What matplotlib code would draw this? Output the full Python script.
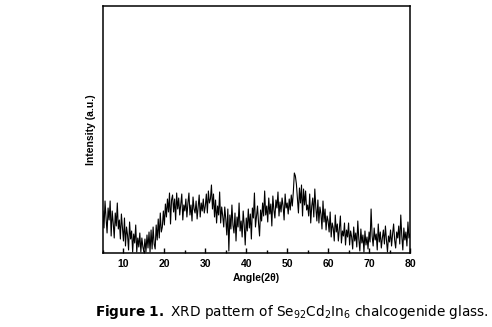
import numpy as np
import matplotlib
matplotlib.use("Agg")
import matplotlib.pyplot as plt
from matplotlib.ticker import MultipleLocator

# XRD pattern, 2theta 5..80 in 0.25 deg steps, intensity in arbitrary units
two_theta_start, two_theta_step = 5.0, 0.25
intensity = [
    42, 25, 52, 35, 20, 45, 33, 52, 17, 42, 30, 15, 40, 27, 50, 24, 33, 14, 39, 26,
    12, 35, 7, 26, 18, 3, 31, 14, 22, 1, 19, 10, 28, 1, 15, 6, 20, 1, 15, 6,
    1, 14, 1, 18, 5, 21, 1, 23, 4, 26, 9, 4, 28, 13, 34, 15, 40, 21, 26, 42,
    28, 49, 36, 54, 41, 60, 29, 53, 58, 41, 54, 33, 60, 44, 55, 38, 48, 59, 33, 48,
    42, 54, 36, 50, 60, 38, 48, 32, 56, 44, 40, 52, 34, 46, 58, 36, 50, 42, 54, 40,
    47, 59, 40, 62, 50, 54, 68, 44, 59, 36, 53, 30, 47, 38, 61, 30, 46, 37, 26, 46,
    34, 18, 44, 2, 38, 24, 48, 28, 20, 40, 12, 36, 26, 50, 22, 32, 16, 42, 28, 8,
    35, 22, 44, 25, 39, 14, 45, 35, 60, 26, 37, 47, 30, 17, 43, 32, 50, 37, 62, 38,
    47, 31, 55, 39, 49, 27, 57, 43, 35, 53, 45, 61, 37, 51, 41, 55, 47, 33, 59, 45,
    50, 39, 54, 43, 58, 47, 61, 80, 77, 69, 55, 40, 65, 50, 68, 37, 64, 48, 62, 43,
    48, 37, 59, 30, 47, 55, 36, 64, 45, 32, 53, 30, 46, 39, 24, 52, 31, 44, 23, 37,
    32, 21, 41, 16, 30, 25, 12, 38, 21, 29, 12, 25, 37, 10, 22, 17, 30, 8, 23, 16,
    30, 8, 22, 16, 4, 26, 12, 20, 6, 32, 14, 2, 24, 10, 18, 1, 22, 8, 16, 4,
    21, 11, 44, 17, 7, 25, 13, 19, 3, 29, 11, 21, 5, 15, 23, 9, 27, 13, 1, 17,
    11, 23, 7, 19, 29, 13, 5, 21, 15, 27, 9, 38, 17, 3, 25, 13, 21, 7, 31, 15,
    19,
]
x_ticks = [10, 20, 30, 40, 50, 60, 70, 80]

two_theta = two_theta_start + two_theta_step * np.arange(len(intensity))

fig = plt.figure(figsize=(4.92, 3.27), dpi=100)
ax = fig.add_axes([0.2093, 0.2263, 0.624, 0.7554])
ax.plot(two_theta, intensity, color="black", lw=0.8)
ax.set_xlim(5, 80)
ax.set_ylim(0, 247)
ax.set_xticks(x_ticks)
ax.xaxis.set_minor_locator(MultipleLocator(5))
ax.set_yticks([])
ax.tick_params(axis="x", which="major", direction="in", length=3.5, width=1, pad=4)
ax.tick_params(axis="x", which="minor", direction="in", length=2, width=1)
for lab in ax.get_xticklabels():
    lab.set_fontfamily("Liberation Sans"); lab.set_fontweight("bold"); lab.set_fontsize(7.5)
for s in ax.spines.values():
    s.set_linewidth(1.1)
ax.set_xlabel("Angle(2θ)", family="Liberation Sans", weight="bold", fontsize=7.5, labelpad=3)
ax.set_ylabel("Intensity (a.u.)", family="Liberation Sans", weight="bold", fontsize=7.5, labelpad=5)

fig.text(0.594, 0.047,
         r"$\bf{Figure\ 1.}$ XRD pattern of Se$_{92}$Cd$_2$In$_6$ chalcogenide glass.",
         ha="center", va="center", fontsize=9.8)

fig.savefig("out.png", dpi=100)
